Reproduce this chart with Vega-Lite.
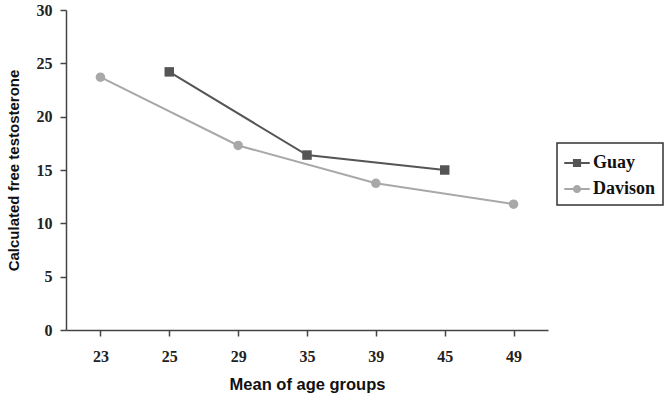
{
  "$schema": "https://vega.github.io/schema/vega-lite/v6.json",
  "width": 482,
  "height": 320,
  "autosize": {"type": "none"},
  "padding": {"left": 66, "top": 10, "right": 124, "bottom": 74},
  "background": "white",
  "config": {
    "view": {"stroke": null},
    "axis": {
      "grid": false,
      "domainColor": "#444",
      "domainWidth": 1.5,
      "tickColor": "#444",
      "tickWidth": 1.5,
      "tickSize": 6,
      "labelFont": "Liberation Serif",
      "labelFontWeight": "bold",
      "labelFontSize": 16,
      "labelColor": "#222",
      "titleFont": "Liberation Sans",
      "titleFontWeight": "bold",
      "titleFontSize": 15,
      "titleColor": "#111"
    },
    "legend": {
      "orient": "none",
      "legendX": 491,
      "legendY": 133,
      "strokeColor": "#333",
      "padding": 7,
      "symbolOpacity": 1,
      "symbolSize": 650,
      "symbolStrokeWidth": 0,
      "labelFont": "Liberation Serif",
      "labelFontWeight": "bold",
      "labelFontSize": 18,
      "labelColor": "#111",
      "rowPadding": 4,
      "labelOffset": 3
    }
  },
  "data": {
    "values": [
      {"age": "25", "value": 24.2, "study": "Guay"},
      {"age": "35", "value": 16.4, "study": "Guay"},
      {"age": "45", "value": 15.0, "study": "Guay"},
      {"age": "23", "value": 23.7, "study": "Davison"},
      {"age": "29", "value": 17.3, "study": "Davison"},
      {"age": "39", "value": 13.75, "study": "Davison"},
      {"age": "49", "value": 11.8, "study": "Davison"}
    ]
  },
  "encoding": {
    "x": {
      "field": "age",
      "type": "ordinal",
      "scale": {"domain": ["23", "25", "29", "35", "39", "45", "49"], "paddingInner": 0, "paddingOuter": 0},
      "axis": {"title": "Mean of age groups", "labelAngle": 0, "bandPosition": 0, "labelPadding": 12, "titlePadding": 12, "titleFontSize": 16.5}
    },
    "y": {
      "field": "value",
      "type": "quantitative",
      "scale": {"domain": [0, 30]},
      "axis": {"title": "Calculated free testosterone", "values": [0, 5, 10, 15, 20, 25, 30], "labelPadding": 8, "titlePadding": 15}
    }
  },
  "layer": [
    {
      "mark": {"type": "line", "strokeWidth": 2},
      "encoding": {
        "color": {
          "field": "study",
          "type": "nominal",
          "scale": {"domain": ["Guay", "Davison"], "range": ["#555555", "#a8a8a8"]},
          "legend": null
        }
      }
    },
    {
      "mark": {"type": "point", "filled": true, "opacity": 1, "size": 90},
      "encoding": {
        "color": {
          "field": "study",
          "type": "nominal",
          "scale": {"domain": ["Guay", "Davison"], "range": ["#555555", "#a8a8a8"]},
          "legend": null
        },
        "shape": {
          "field": "study",
          "type": "nominal",
          "scale": {"domain": ["Guay", "Davison"], "range": ["square", "circle"]},
          "legend": null
        }
      }
    },
    {
      "mark": {"type": "point", "filled": true, "opacity": 0, "size": 90},
      "encoding": {
        "color": {
          "field": "study",
          "type": "nominal",
          "title": null,
          "scale": {"domain": ["Guay", "Davison"], "range": ["#555555", "#a8a8a8"]},
          "legend": {"encode": {"legend": {"update": {"strokeWidth": {"value": 1.5}}}}}
        },
        "shape": {
          "field": "study",
          "type": "nominal",
          "title": null,
          "scale": {
            "domain": ["Guay", "Davison"],
            "range": [
              "M-1,-0.08H1V0.08H-1Z M-0.32,-0.32H0.32V0.32H-0.32Z",
              "M-1,-0.08H1V0.08H-1Z M0.32,0 A0.32,0.32 0 1 1 -0.32,0 A0.32,0.32 0 1 1 0.32,0Z"
            ]
          },
          "legend": {"encode": {"legend": {"update": {"strokeWidth": {"value": 1.5}}}}}
        }
      }
    }
  ],
  "resolve": {"scale": {"shape": "independent", "color": "independent"}}
}
